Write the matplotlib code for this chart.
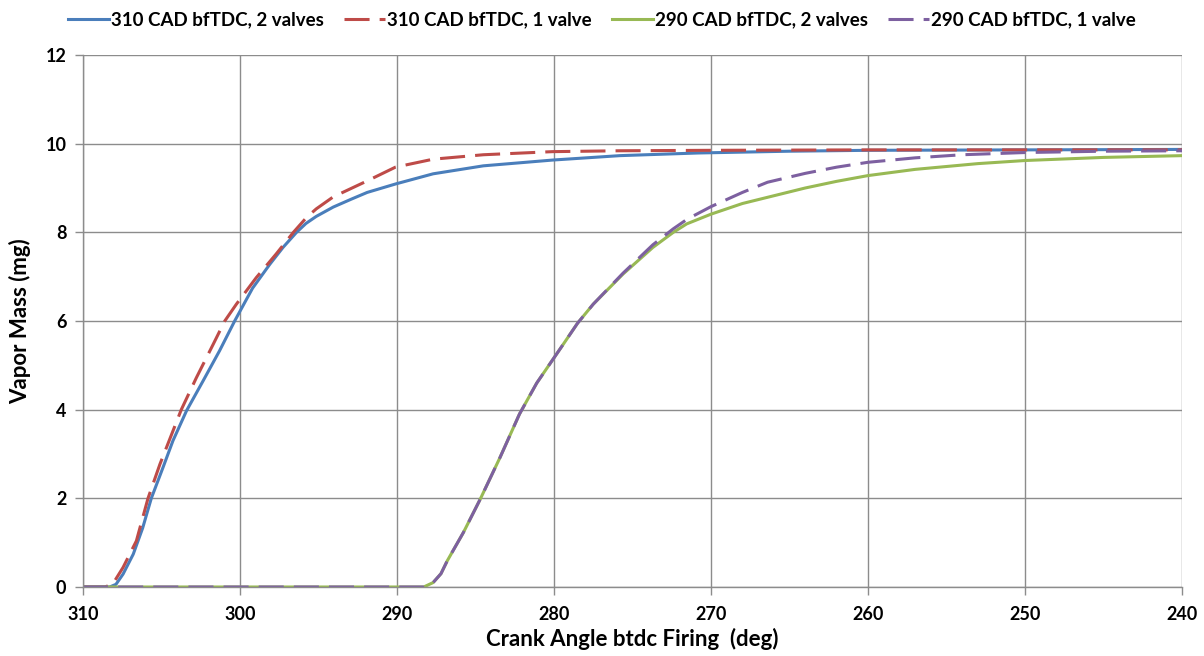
import matplotlib
matplotlib.use("Agg")
import matplotlib.pyplot as plt

# Crank angle (deg btdc) and vapor mass (mg) for each injection case
x_310_2v = [310, 308.3, 307.9, 307.45, 306.8, 306.2, 305.65, 304.9, 304.27, 303.4, 302.35,
            301.3, 300.34, 299.2, 298.1, 297.26, 296.4, 295.8, 295.14, 294.06, 292.9, 291.9,
            290.1, 287.7, 284.5, 280.1, 275.8, 270.8, 265, 260, 250, 240]
y_310_2v = [0, 0, 0.06, 0.29, 0.74, 1.33, 2.0, 2.7, 3.3, 3.98, 4.65,
            5.33, 6.0, 6.74, 7.28, 7.66, 8.0, 8.2, 8.36, 8.57, 8.75, 8.9,
            9.09, 9.32, 9.5, 9.63, 9.73, 9.79, 9.83, 9.85, 9.86, 9.87]

x_310_1v = [310, 308.6, 308.1, 307.45, 306.6, 305.86, 305.1, 304.27, 303.74, 302.78, 301.7,
            300.97, 300.23, 298.96, 297.7, 296.6, 295.75, 295.14, 294.06, 291.9, 290.1,
            287.7, 284.5, 280.1, 275.8, 270, 260, 250, 240]
y_310_1v = [0, 0, 0.07, 0.44, 1.04, 2.0, 2.77, 3.52, 4.0, 4.72, 5.48,
            6.0, 6.38, 6.98, 7.51, 8.0, 8.34, 8.53, 8.8, 9.16, 9.47,
            9.65, 9.75, 9.82, 9.84, 9.85, 9.86, 9.86, 9.86]

x_290_2v = [310, 288.3, 287.7, 287.2, 286.8, 285.77, 284.7, 283.44, 282.2, 281.1, 279.4,
            278.5, 277.5, 275.6, 273.7, 272.4, 271.55, 270, 268, 266.4, 264, 262, 260,
            257, 253, 250, 245, 240]
y_290_2v = [0, 0, 0.1, 0.3, 0.59, 1.23, 1.98, 2.92, 3.9, 4.6, 5.48,
            5.95, 6.38, 7.06, 7.66, 8.0, 8.19, 8.41, 8.65, 8.79, 9.0, 9.15, 9.28,
            9.42, 9.55, 9.62, 9.69, 9.73]

x_290_1v = [310, 288.3, 287.7, 287.2, 286.8, 285.77, 284.7, 283.44, 282.2, 281.1, 279.4,
            278.5, 277.5, 275.6, 273.7, 272.4, 271.5, 270, 268, 266.4, 264, 262, 260,
            257, 254, 250, 245, 240]
y_290_1v = [0, 0, 0.1, 0.3, 0.59, 1.23, 1.98, 2.92, 3.9, 4.6, 5.48,
            5.95, 6.38, 7.08, 7.72, 8.08, 8.3, 8.58, 8.9, 9.13, 9.33, 9.47, 9.58,
            9.68, 9.75, 9.8, 9.83, 9.84]

labels = ["310 CAD bfTDC, 2 valves", "310 CAD bfTDC, 1 valve",
          "290 CAD bfTDC, 2 valves", "290 CAD bfTDC, 1 valve"]
x_ticks = [310, 300, 290, 280, 270, 260, 250, 240]
y_ticks = [0, 2, 4, 6, 8, 10, 12]

fig = plt.figure(figsize=(12.04, 6.56), dpi=100)
ax = fig.add_axes([83 / 1204, 1 - 587 / 656, (1182 - 83) / 1204, (587 - 55) / 656])

lw = 2.2
dash = (0, (8.2, 3.3))
ax.plot(x_310_2v, y_310_2v, color="#4A7EBB", lw=lw, label=labels[0])
ax.plot(x_310_1v, y_310_1v, color="#BE4B48", lw=lw, ls=dash, label=labels[1])
ax.plot(x_290_2v, y_290_2v, color="#98B954", lw=lw, label=labels[2])
ax.plot(x_290_1v, y_290_1v, color="#7D60A0", lw=lw, ls=dash, label=labels[3])

ax.set_xlim(310, 240)
ax.set_ylim(0, 12)
ax.set_xticks(x_ticks)
ax.set_yticks(y_ticks)

grid_color = "#8c8c8c"
ax.grid(True, color=grid_color, lw=1)
ax.set_axisbelow(True)
for side in ["top", "right"]:
    ax.spines[side].set_visible(False)
for side in ["left", "bottom"]:
    ax.spines[side].set_color(grid_color)
    ax.spines[side].set_linewidth(1)
ax.tick_params(axis="both", color=grid_color, length=6, width=1, labelsize=13)
ax.tick_params(axis="x", pad=8)
ax.tick_params(axis="y", pad=6)
for lab in ax.get_xticklabels() + ax.get_yticklabels():
    lab.set_fontfamily("Lato")
    lab.set_fontweight("bold")

ax.set_xlabel("Crank Angle btdc Firing  (deg)", fontsize=16, fontweight="bold",
              family="Lato", labelpad=3)
ax.set_ylabel("Vapor Mass (mg)", fontsize=16, fontweight="bold", family="Lato", labelpad=10)

fig.legend(loc="upper center", bbox_to_anchor=(0.5, 1.008), ncol=4, frameon=False,
           handlelength=2.15, handletextpad=0.12, columnspacing=1.1,
           prop={"family": "Lato", "size": 13.5, "weight": "bold"})

fig.savefig("out.png", dpi=100)
